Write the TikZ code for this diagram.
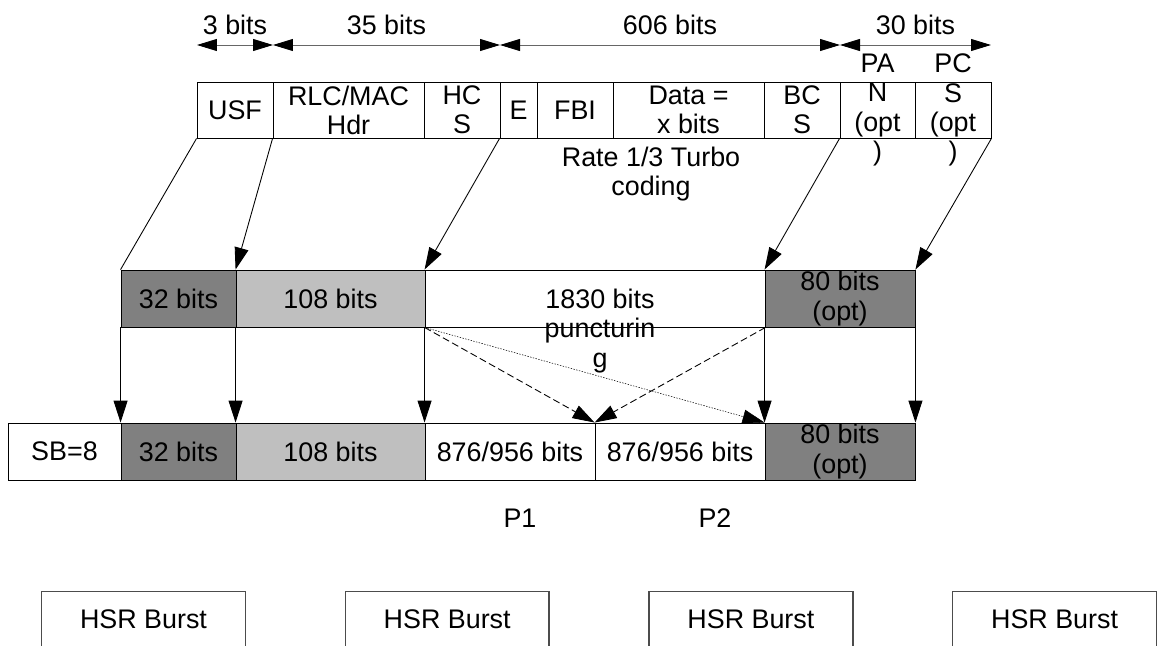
\documentclass[tikz,border=0pt]{standalone}
\usepackage{fontspec}
\setmainfont{Liberation Sans}
\usetikzlibrary{arrows.meta,fit}
\tikzset{
  cell/.style={draw,rectangle,inner sep=0pt,minimum size=0pt},
  darkcell/.style={cell,fill=black!50},
  lightcell/.style={cell,fill=black!25},
  lbl/.style={align=center,inner sep=0pt},
  txt/.style={label={[lbl]center:{#1}}},
  dimline/.style={draw=black!60,>={Triangle[length=4mm,width=2.4mm,color=black]},<->},
  flow/.style={-{Triangle[length=4.4mm,width=2.8mm]}},
  dashflow/.style={flow,dash pattern=on 4pt off 2pt},
  dotflow/.style={flow,line width=0.3pt,dash pattern=on 0.8pt off 0.8pt}
}

\begin{document}
\begin{tikzpicture}[x=0.02cm,y=-0.02cm,line width=0.5pt,font=\fontsize{15.3}{16.6}\selectfont]
  \useasboundingbox (0,0) rectangle (1174,646);
  % upper frame
  \node[cell,fit={(197,82) (273,138)},txt={USF}] (usf) {};
  \node[cell,fit={(273,82) (424,138)},txt={RLC/MAC\\Hdr}] (rlcmac) {};
  \node[cell,fit={(424,82) (500,138)},txt={HC\\S}] (hcs) {};
  \node[cell,fit={(500,82) (537,138)},txt={E}] (ext) {};
  \node[cell,fit={(537,82) (613,138)},txt={FBI}] (fbi) {};
  \node[cell,fit={(613,82) (764,138)},txt={Data =\\x bits}] (data) {};
  \node[cell,fit={(764,82) (840,138)},txt={BC\\S}] (bcs) {};
  \node[cell,fit={(840,82) (915,138)},txt={PA\\N\\(opt\\)}] (pan) {};
  \node[cell,fit={(915,82) (991,138)},txt={PC\\S\\(opt\\)}] (pcs) {};
  \node[lbl] (turbo) at (651,174) {Rate 1/3 Turbo\\coding};

  % field lengths
  \coordinate (d0) at (197,45);
  \coordinate (d1) at (273,45);
  \coordinate (d2) at (500,45);
  \coordinate (d3) at (840,45);
  \coordinate (d4) at (991,45);
  \draw[dimline] (d0) -- node[above=2pt]{3 bits} (d1);
  \draw[dimline] (d1) -- node[above=2pt]{35 bits} (d2);
  \draw[dimline] (d2) -- node[above=2pt]{606 bits} (d3);
  \draw[dimline] (d3) -- node[above=2pt]{30 bits} (d4);

  % coded block
  \node[darkcell,fit={(121,270) (236,327)},txt={32 bits}] (enc32) {};
  \node[lightcell,fit={(236,270) (425,327)},txt={108 bits}] (enc108) {};
  \node[cell,fit={(425,270) (765,327)}] (enc1830) {};
  \node[darkcell,fit={(765,270) (915,327)},txt={80 bits\\(opt)}] (enc80) {};
  \node[lbl] (punct) at (600,331) {1830 bits\\puncturin\\g};

  % burst payload
  \node[cell,fit={(8,423) (121,480)},txt={SB=8}] (sb) {};
  \node[darkcell,fit={(121,423) (236,480)},txt={32 bits}] (out32) {};
  \node[lightcell,fit={(236,423) (425,480)},txt={108 bits}] (out108) {};
  \node[cell,fit={(425,423) (595,480)},txt={876/956 bits}] (part1) {};
  \node[cell,fit={(595,423) (765,480)},txt={876/956 bits}] (part2) {};
  \node[darkcell,fit={(765,423) (915,480)},txt={80 bits\\(opt)}] (out80) {};
  \node (p1) at (520,518) {P1};
  \node (p2) at (715,518) {P2};

  % coding
  \draw (usf.south west) -- (enc32.north west);
  \draw[flow] (rlcmac.south west) -- (enc108.north west);
  \draw[flow] (ext.south west) -- (enc1830.north west);
  \draw[flow] (pan.south west) -- (enc80.north west);
  \draw[flow] (pcs.south east) -- (enc80.north east);

  % mapping
  \draw[flow] (enc32.south west) -- (out32.north west);
  \draw[flow] (enc108.south west) -- (out108.north west);
  \draw[flow] (enc1830.south west) -- (part1.north west);
  \draw[flow] (enc80.south west) -- (out80.north west);
  \draw[flow] (enc80.south east) -- (out80.north east);
  \draw[dashflow] (enc1830.south west) -- (part2.north west);
  \draw[dashflow] (enc1830.south east) -- (part2.north west);
  \draw[dotflow] (enc1830.south west) -- (out80.north west);

  % bursts
  \foreach \i in {0,...,3} {
    \node[inner sep=0pt,minimum size=0pt,fit={({42+303.7*\i},592) ({245+303.7*\i},646)},txt={HSR Burst}] (hsr\i) {};
    \draw[black!70,line width=0.8pt] (hsr\i.south west) |- (hsr\i.north east) -- (hsr\i.south east);
  }
\end{tikzpicture}
\end{document}
